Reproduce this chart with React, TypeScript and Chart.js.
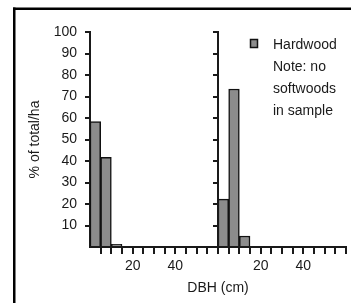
import React, { useEffect, useRef } from "react";
import { Chart, registerables } from "chart.js";

Chart.register(...registerables);

// DBH class midpoints (cm): 0–5, 5–10, 10–15
const dbhClassMidpoints = [2.5, 7.5, 12.5];
// % of total/ha, left panel and right panel
const leftPanelValues = [58.3, 41.7, 1.3];
const rightPanelValues = [22.3, 73.5, 5.1];
// each panel spans 0–60 cm DBH
const panelWidthCm = 60;
const xTickStep = 5;
const xTickLabels = [20, 40];
const yTickStep = 10;
const seriesLabel = "Hardwood";
const noteLines = ["Note: no", "softwoods", "in sample"];
const yTitle = "% of total/ha";
const xTitle = "DBH (cm)";

const FONT = "'Liberation Sans', Arial, sans-serif";
const INK = "#1a1a1a";
const BAR_FILL = "#8c8c8c";

export default function App() {
  const ref = useRef<HTMLCanvasElement | null>(null);

  useEffect(() => {
    const canvas = ref.current;
    if (!canvas) return;

    const points = [
      ...dbhClassMidpoints.map((x, i) => ({ x, y: leftPanelValues[i] })),
      ...dbhClassMidpoints.map((x, i) => ({ x: x + panelWidthCm, y: rightPanelValues[i] })),
    ];

    const overlay = {
      id: "overlay",
      beforeDraw(chart: any) {
        const ctx = chart.ctx;
        ctx.save();
        ctx.fillStyle = "#000";
        ctx.fillRect(13, 7.5, 2.5, 303);
        ctx.fillRect(13, 7.5, 351, 2.5);
        ctx.restore();
      },
      afterDraw(chart: any) {
        const ctx = chart.ctx;
        const xs = chart.scales.x;
        const ys = chart.scales.y;
        const mx = Math.round(xs.getPixelForValue(panelWidthCm));
        ctx.save();
        ctx.strokeStyle = INK;
        ctx.lineWidth = 2;
        ctx.beginPath();
        // second panel's y axis
        ctx.moveTo(mx, ys.top - 1);
        ctx.lineTo(mx, ys.bottom);
        ys.ticks.forEach((t: any) => {
          if (t.value === 0) return;
          const py = Math.round(ys.getPixelForValue(t.value));
          ctx.moveTo(mx - 5, py);
          ctx.lineTo(mx, py);
        });
        ctx.stroke();
        // x tick marks
        ctx.fillStyle = INK;
        xs.ticks.forEach((t: any) => {
          if (t.value === 0) return;
          const px = Math.round(xs.getPixelForValue(t.value));
          ctx.fillRect(px - 1, xs.top, 2, 7);
        });

        // legend
        ctx.fillStyle = BAR_FILL;
        ctx.fillRect(250.5, 39.5, 7, 8);
        ctx.lineWidth = 1.5;
        ctx.strokeStyle = "#111";
        ctx.strokeRect(250.5, 39.5, 7, 8);
        ctx.fillStyle = INK;
        ctx.font = `14px ${FONT}`;
        ctx.textBaseline = "middle";
        ctx.textAlign = "left";
        ctx.fillText(seriesLabel, 273, 45.5);
        noteLines.forEach((line, i) => ctx.fillText(line, 273, 67 + i * 22));
        ctx.restore();
      },
    };

    const tickColor = (c: any) => (c.tick && c.tick.value === 0 ? "rgba(0,0,0,0)" : INK);

    const chart = new Chart(canvas, {
      type: "bar",
      data: {
        datasets: [
          {
            label: seriesLabel,
            data: points as any,
            backgroundColor: BAR_FILL,
            borderColor: "#111",
            borderWidth: 1.5,
            barPercentage: 1,
            categoryPercentage: 1,
          },
        ],
      },
      options: {
        responsive: false,
        animation: false,
        devicePixelRatio: 1,
        layout: { padding: { top: 32, left: 0, right: 2.4, bottom: 0 } },
        plugins: { legend: { display: false }, tooltip: { enabled: false } },
        scales: {
          x: {
            type: "linear",
            min: 0,
            max: panelWidthCm * 2,
            offset: false,
            grid: {
              offset: false,
              drawOnChartArea: false,
              drawTicks: true,
              tickLength: 6,
              color: tickColor,
              lineWidth: 2,
            },
            border: { color: INK, width: 2 },
            ticks: {
              stepSize: xTickStep,
              autoSkip: false,
              maxRotation: 0,
              minRotation: 0,
              padding: 5,
              color: INK,
              font: { family: FONT, size: 14 },
              callback: (v: any) => {
                const r = Number(v) % panelWidthCm;
                return xTickLabels.includes(r) ? String(r) : "";
              },
            },
            title: {
              display: true,
              text: xTitle,
              color: INK,
              font: { family: FONT, size: 14 },
              padding: { top: 0, bottom: 6.6 },
            },
            afterFit: (s: any) => {
              s.height = 56;
            },
          } as any,
          y: {
            min: 0,
            max: 100,
            grid: {
              drawOnChartArea: false,
              drawTicks: true,
              tickLength: 5,
              color: tickColor,
              lineWidth: 2,
            },
            border: { color: INK, width: 2 },
            ticks: {
              stepSize: yTickStep,
              padding: 8,
              color: INK,
              font: { family: FONT, size: 14 },
              callback: (v: any) => (Number(v) === 0 ? "" : String(v)),
            },
            title: {
              display: true,
              text: yTitle,
              color: INK,
              font: { family: FONT, size: 14 },
              padding: { top: 26.6, bottom: 0 },
            },
            afterFit: (s: any) => {
              s.width = 90;
            },
          } as any,
        },
      },
      plugins: [overlay],
    });

    return () => chart.destroy();
  }, []);

  return (
    <div style={{ position: "absolute", left: 0, top: 0, width: 351, height: 303, overflow: "hidden", background: "#fff" }}>
      <canvas ref={ref} width={351} height={303} style={{ display: "block" }} />
    </div>
  );
}
